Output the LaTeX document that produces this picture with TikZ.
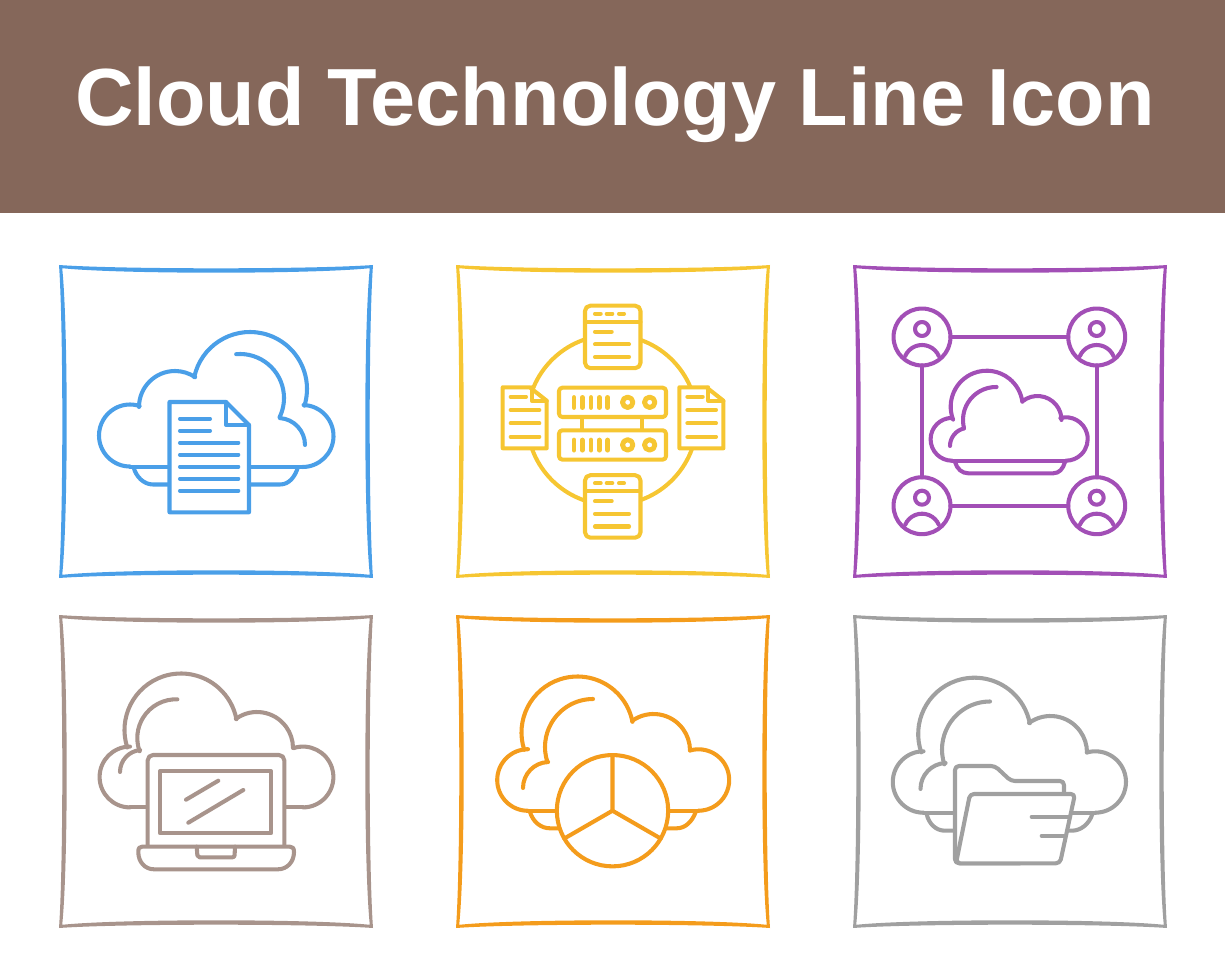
\documentclass[tikz,border=0pt]{standalone}
\usepackage{fontspec}
\setmainfont{Liberation Sans}
\definecolor{bandbrown}{HTML}{85675A}
\definecolor{iconblue}{HTML}{4A9FE8}
\definecolor{iconyellow}{HTML}{F6C632}
\definecolor{iconpurple}{HTML}{A24FB6}
\definecolor{icontaupe}{HTML}{A8948C}
\definecolor{iconorange}{HTML}{F49C1C}
\definecolor{icongrey}{HTML}{A0A0A0}
\tikzset{
  iconline/.style={line width=3.05pt,line cap=round,line join=round},
  heavyline/.style={line width=3.7pt,line cap=round},
  usercircle/.style={circle,draw,iconline,inner sep=0pt,outer sep=0pt,minimum size=42.7pt},
  piecircle/.style={circle,draw,iconline,fill=white,inner sep=0pt,outer sep=0pt,minimum size=83.5pt},
  titletext/.style={text=white,font=\bfseries\fontsize{60.8}{60.8}\selectfont}
}
\newcommand{\squareframe}[3]{
  \fill[#3,even odd rule,shift={(#1,#2)}] (-1,-1) .. controls (60,3.4) and (252,3.4) .. (313,-1)
    .. controls (308.6,60) and (308.6,251) .. (313,312)
    .. controls (252,307.6) and (60,307.6) .. (-1,312)
    .. controls (3.4,251) and (3.4,60) .. (-1,-1) -- cycle
    (2.2,2.2) .. controls (60,8.2) and (252,8.2) .. (309.8,2.2)
    .. controls (303.8,60) and (303.8,251) .. (309.8,308.8)
    .. controls (252,302.8) and (60,302.8) .. (2.2,308.8)
    .. controls (8.2,251) and (8.2,60) .. (2.2,2.2) -- cycle;
}
\newcommand{\arcset}[1]{
  \foreach \cx/\cy/\r/\a/\b in {#1}
    \draw[iconline] (\cx,\cy) ++(\a:\r) arc[start angle=\a,end angle=\b,radius=\r];
}
\newcommand{\windowcard}[2]{
  \begin{scope}[shift={(#1,#2)}]
    \draw[iconline,fill=white,rounded corners=4pt] (0,0) rectangle (55.5,62.5);
    \draw[iconline] (0,16) -- (55.5,16);
    \draw[iconline] (10,8) -- (15.7,8) (21.7,8) -- (27.3,8) (34,8) -- (39,8);
    \draw[iconline] (10,26) -- (26.7,26) (10,38.7) -- (44,38.7) (10,51.3) -- (44,51.3);
  \end{scope}
}
\newcommand{\sidedoc}[2]{
  \begin{scope}[shift={(#1,#2)}]
    \draw[iconline,fill=white] (0,0) -- (27,0) -- (44,13.4) -- (44,61) -- (0,61) -- cycle;
    \draw[iconline] (29,0) -- (29,13.4) -- (44,13.4);
    \draw[iconline] (8,9.4) -- (23.3,9.4);
    \foreach \ly in {22.7,36,49.4}
      \draw[iconline] (8,\ly) -- (36.6,\ly);
  \end{scope}
}
\newcommand{\serverbox}[1]{
  \begin{scope}[shift={(0,#1)}]
    \draw[iconline,fill=white,rounded corners=2.5pt] (559,387.7) rectangle (666,417);
    \foreach \lx in {574,582.3,591,599.3,607.7}
      \draw[heavyline] (\lx,397.5) -- (\lx,407.5);
    \draw[heavyline] (627.7,402.3) circle[radius=5.2] (649.7,402.3) circle[radius=5.2];
  \end{scope}
}
\newcommand{\userbadge}[3]{
  \node[usercircle] (#1) at (#2,#3) {};
  \draw[iconline] (#2,#3) ++(0,-8) circle[radius=7];
  \draw[iconline] (#2,#3) ++(0,26.3) ++(203:18.3) arc[start angle=203,end angle=337,radius=18.3];
}
\begin{document}
\begin{tikzpicture}[x=.75pt,y=-.75pt,line join=round]
  \useasboundingbox (0,0) rectangle (1225,980);
  \fill[bandbrown] (0,0) rectangle (1225,213);
  \node[titletext] (title) at (614.8,105) {Cloud Technology Line Icon};

  \squareframe{60}{266}{iconblue}
  \squareframe{457}{266}{iconyellow}
  \squareframe{854}{266}{iconpurple}
  \squareframe{60}{616}{icontaupe}
  \squareframe{457}{616}{iconorange}
  \squareframe{854}{616}{icongrey}

  \begin{scope}[color=iconblue]
    \arcset{130/435.5/31/90/288, 175/407/36/180/304, 250/389/57/192/377, 302.5/436/31/272/450,
      240/398/44/265/386, 278/445/27/274/360}
    \draw[iconline] (130,466.7) -- (302.5,466.7);
    \draw[iconline] (133.5,467) .. controls (136,477) and (144,484.5) .. (153,484.5) -- (280,484.5)
      .. controls (289,484.5) and (295,477) .. (298,467);
    \draw[iconline,fill=white] (169.5,402) -- (226,402) -- (249,425) -- (249,512.3) -- (169.5,512.3) -- cycle;
    \draw[iconline] (226,402) -- (226,425) -- (249,425);
    \foreach \ly in {418.7,430.7}
      \draw[iconline] (180,\ly) -- (210,\ly);
    \foreach \ly in {442.7,454.7,466.7,478.7,490.7}
      \draw[iconline] (180,\ly) -- (238.3,\ly);
  \end{scope}

  \begin{scope}[color=iconyellow]
    \draw[iconline] (612,420) circle[radius=85];
    \windowcard{585}{305.7}
    \windowcard{585}{475.2}
    \sidedoc{502.7}{387.3}
    \sidedoc{679.4}{387.3}
    \draw[iconline] (582.3,417) -- (582.3,430) (642.3,417) -- (642.3,430);
    \serverbox{0}
    \serverbox{42.6}
  \end{scope}

  \begin{scope}[color=iconpurple]
    \userbadge{userA}{922}{337}
    \userbadge{userB}{1096.7}{337}
    \userbadge{userC}{922}{505.7}
    \userbadge{userD}{1096.7}{505.7}
    \draw[iconline] (userA) -- (userB) (userB) -- (userD) (userD) -- (userC) (userC) -- (userA);
    \arcset{952/439.3/21.4/90/270, 986.7/406.7/36/159/352, 1037.5/420/24/231/360, 1066/439/21.7/255/450,
      996/420/33/271/166, 968/446/18/257/180}
    \draw[iconline] (952,460.7) -- (1066,460.7);
    \draw[iconline] (955,462) .. controls (957,469) and (962,473.3) .. (968.3,473.3) -- (1053.3,473.3)
      .. controls (1059,473.3) and (1063,469) .. (1065,462);
  \end{scope}

  \begin{scope}[color=icontaupe]
    \arcset{130/777/30.4/90/270, 181/730/56.5/162/349, 257/748/36/234/360, 303/777/30.4/252/450,
      176/738/38.7/272/160, 142/772/22/265/180}
    \draw[iconline] (130,807.3) -- (303,807.3);
    \draw[iconline,fill=white,rounded corners=4pt] (147.7,846.7) -- (147.7,755) -- (284.3,755) -- (284.3,846.7);
    \draw[iconline] (160,771.3) rectangle (271,833.3);
    \draw[iconline] (186,799.7) -- (218.3,780.7) (188.3,822.7) -- (243.3,790);
    \draw[iconline,fill=white] (154,869.3) .. controls (145,869.3) and (138.3,862) .. (138.3,852)
      .. controls (138.3,848) and (139.5,846.7) .. (142,846.7) -- (290,846.7)
      .. controls (292.5,846.7) and (294,848) .. (294,852)
      .. controls (294,862) and (287,869.3) .. (278,869.3) -- cycle;
    \draw[iconline,rounded corners=1.5pt] (196.7,846.7) -- (197.5,857.3) -- (234.5,857.3) -- (235,846.7);
  \end{scope}

  \begin{scope}[color=iconorange]
    \arcset{528/780/30.8/90/270, 577.5/732.5/56/162/349, 653.5/750.5/36.5/234/360, 698.5/780/30.7/254/450,
      593/747/48/270/162, 549/788/26/268/180}
    \draw[iconline] (528,810.7) -- (698.5,810.7);
    \draw[iconline] (530,812) .. controls (533,822) and (541,828.3) .. (550,828.3) -- (676.7,828.3)
      .. controls (685,828.3) and (692,822) .. (695.7,812);
    \node[piecircle] (pie) at (612.5,810.7) {};
    \draw[iconline] (pie.center) -- (pie.90) (pie.center) -- (pie.210) (pie.center) -- (pie.330);
  \end{scope}

  \begin{scope}[color=icongrey]
    \arcset{923.5/782/30.7/90/270, 974.5/734/56.3/161/349, 1050.5/752.5/36.5/234/360, 1095.3/782/30.7/254/450,
      990/749.5/48/270/162, 946.5/789/26/268/180}
    \draw[iconline] (923.5,812.7) -- (1095.3,812.7);
    \draw[iconline] (926.7,814.3) .. controls (929,824) and (936,830.7) .. (945,830.7) -- (1071.7,830.7)
      .. controls (1081,830.7) and (1089,824) .. (1092.3,814.3);
    \draw[iconline,fill=white,rounded corners=3pt] (1064,794) -- (1064,781) -- (1011,781) -- (995,766)
      -- (955,766) -- (955,863.3) -- (1020,863.3);
    \draw[iconline,fill=white,rounded corners=3pt] (970,794) -- (1075,794) -- (1060,863.3) -- (956,863.3) -- cycle;
    \draw[iconline] (1031.7,816.7) -- (1068,816.7) (1041.7,835.7) -- (1065,835.7);
  \end{scope}
\end{tikzpicture}
\end{document}
